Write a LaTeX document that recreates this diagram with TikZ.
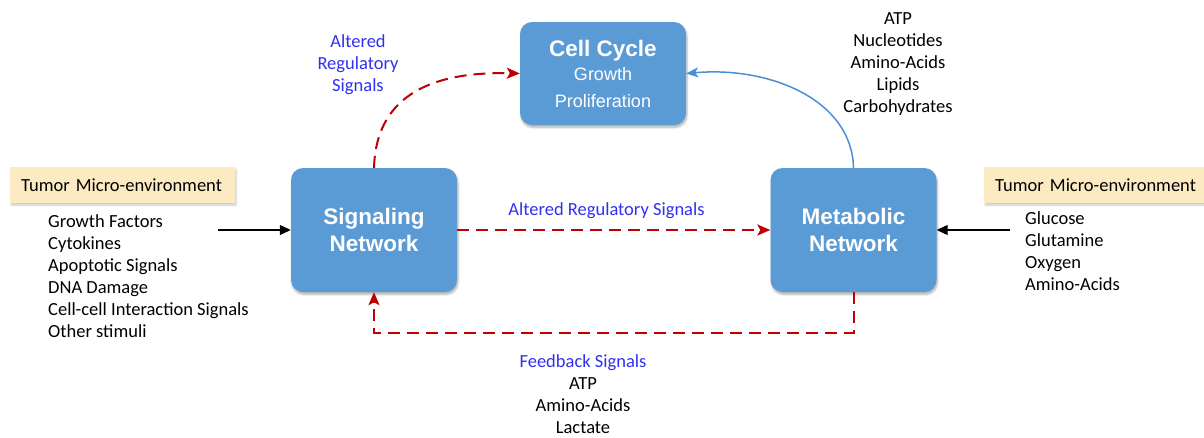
\documentclass[tikz,border=0pt]{standalone}
\usepackage{fontspec}
\setmainfont{Carlito}
\newfontfamily\arialfont{Liberation Sans}
\usetikzlibrary{arrows.meta,shadows.blur}

\definecolor{boxblue}{HTML}{5B9BD5}
\definecolor{notecream}{HTML}{FCEBC2}
\definecolor{sigred}{HTML}{C00000}
\definecolor{labelblue}{HTML}{3030F0}
\definecolor{curveblue}{HTML}{4A8FD6}

\begin{document}
\begin{tikzpicture}[x=1pt,y=-1pt,
  hub/.style={fill=boxblue, rounded corners=12pt, text=white, align=center,
    inner sep=0pt,
    blur shadow={shadow blur steps=6, shadow xshift=1pt, shadow yshift=-2.5pt, shadow opacity=30}},
  hubtitle/.style={hub, font=\arialfont\bfseries\fontsize{22.5}{27.5}\selectfont},
  envbox/.style={fill=notecream, anchor=north west, inner xsep=11pt, inner ysep=0pt,
    text width=203pt, minimum height=36pt, align=left,
    font=\fontsize{18.5}{22}\selectfont,
    blur shadow={shadow blur steps=4, shadow xshift=1pt, shadow yshift=-2pt, shadow opacity=20}},
  listtext/.style={inner sep=0pt, font=\fontsize{18.5}{22}\selectfont},
  bluetext/.style={listtext, text=labelblue},
  inarrow/.style={draw=black, line width=1.2pt, -{Triangle[length=11pt,width=10pt]}},
  sigflow/.style={draw=sigred, line width=2pt, dash pattern=on 12pt off 7pt,
    -{Stealth[length=13pt,width=11pt,inset=3pt]}},
  metflow/.style={draw=curveblue, line width=1.5pt, -{Stealth[length=12pt,width=10pt,inset=3pt]}}
]
\useasboundingbox (0,0) rectangle (1204,437);

% central process boxes
\node[hub, minimum width=166pt, minimum height=103pt,
      font=\arialfont\fontsize{18}{26}\selectfont] (cc) at (603,73.5)
  {{\bfseries\fontsize{22.5}{25}\selectfont Cell Cycle}\\[-2pt]
   Growth\\[1pt]
   Proliferation};
\node[hubtitle, minimum width=166pt, minimum height=124pt] (sig) at (374,230)
  {Signaling\\Network};
\node[hubtitle, minimum width=166pt, minimum height=124pt] (met) at (853.5,230)
  {Metabolic\\Network};

% tumor micro-environment inputs
\node[envbox] (envleft) at (10,167) {Tumor Micro-environment};
\node[envbox] (envright) at (984,167) {Tumor Micro-environment};

\node[listtext, anchor=north west, align=left] (siglist) at (48,214)
  {Growth Factors\\Cytokines\\Apoptotic Signals\\DNA Damage\\Cell-cell Interaction Signals\\Other stimuli};
\node[listtext, anchor=north west, align=left] (metlist) at (1025,211)
  {Glucose\\Glutamine\\Oxygen\\Amino-Acids};

\coordinate (leftsrc) at (218,230);
\coordinate (rightsrc) at (1010,230);
\draw[inarrow] (leftsrc) -- (sig.west);
\draw[inarrow] (rightsrc) -- (met.east);

% signaling -> metabolic
\draw[sigflow] (sig.east) -- (met.west);
\node[bluetext, anchor=north] (midlabel) at (606.5,202.5) {Altered Regulatory Signals};

% signaling -> cell cycle
\draw[sigflow] (sig.north) .. controls (376,100) and (425,71) .. (cc.west);
\node[bluetext, anchor=north, align=center] (toplabel) at (358,34.5)
  {Altered\\Regulatory\\Signals};

% metabolic -> cell cycle
\draw[metflow] (met.north) .. controls (852,100) and (770,66) .. (cc.east);
\node[listtext, anchor=north, align=center] (supplylist) at (898,12.5)
  {ATP\\Nucleotides\\Amino-Acids\\Lipids\\Carbohydrates};

% feedback loop
\coordinate (fbright) at (met.south |- 0,333);
\coordinate (fbleft) at (sig.south |- 0,333);
\draw[sigflow] (met.south) -- (fbright) -- (fbleft) -- (sig.south);
\node[listtext, anchor=north, align=center] (fblabel) at (583,354.5)
  {\textcolor{labelblue}{Feedback Signals}\\ATP\\Amino-Acids\\Lactate};
\end{tikzpicture}
\end{document}
